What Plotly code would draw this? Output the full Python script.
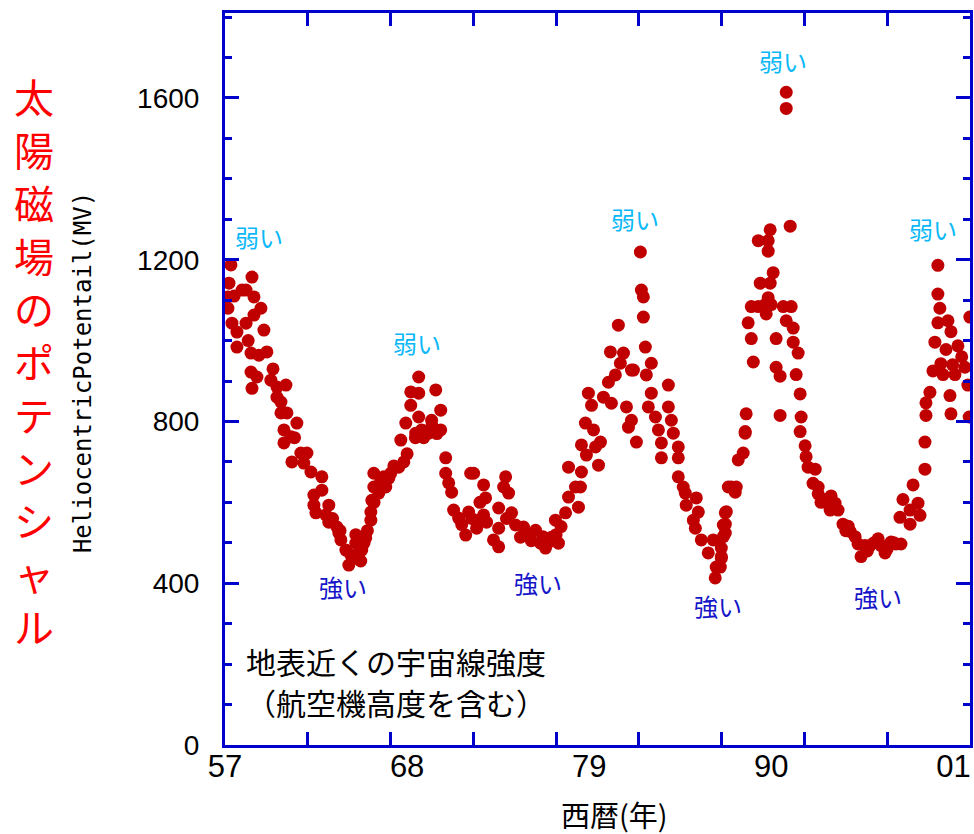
import plotly.graph_objects as go

# ---- data (year, heliocentric potential in MV) ----
years = [
    1957.36, 1957.24, 1957.18, 1957.18, 1957.42, 1957.72, 1957.72, 1958.03, 1958.27, 1958.63,
    1958.75, 1958.27, 1958.75, 1959.17, 1959.35, 1958.57, 1959.05, 1959.53, 1958.57, 1958.93,
    1958.63, 1959.77, 1960.14, 1960.68, 1960.14, 1960.38, 1960.38, 1960.74, 1961.34, 1960.56,
    1960.56, 1960.98, 1961.04, 1961.58, 1961.95, 1961.76, 1962.19, 1962.85, 1962.85, 1962.37,
    1962.37, 1963.27, 1962.49, 1963.09, 1963.27, 1963.76, 1963.88, 1964.00, 1964.30, 1964.60,
    1964.48, 1964.90, 1965.26, 1965.50, 1965.81, 1965.81, 1965.87, 1965.99, 1965.99, 1966.29,
    1966.59, 1966.71, 1967.01, 1967.49, 1967.62, 1967.92, 1968.22, 1968.70, 1968.70, 1968.22,
    1968.70, 1968.52, 1968.88, 1969.30, 1969.48, 1969.73, 1970.03, 1970.03, 1970.33, 1970.33,
    1970.51, 1970.69, 1970.81, 1971.11, 1971.54, 1971.84, 1972.14,
    1964.70, 1965.00, 1965.20, 1964.90, 1965.40, 1965.60, 1966.00, 1966.40, 1966.90, 1967.20,
    1967.80, 1968.00, 1968.50, 1969.00, 1969.50, 1969.80, 1957.55, 1958.40, 1959.90, 1961.20,
    1963.50, 1963.95,
    1972.02, 1972.62, 1972.74, 1971.72, 1972.62, 1972.80, 1972.20, 1973.22, 1973.53, 1973.53,
    1973.53, 1973.95, 1973.83, 1974.13, 1974.31, 1974.55, 1975.03, 1974.85, 1975.76, 1976.06,
    1976.36, 1976.72, 1976.96, 1977.14, 1977.57, 1977.75, 1977.75, 1978.17, 1978.47, 1978.35,
    1978.53, 1978.53, 1978.77, 1978.83, 1979.26, 1979.38, 1979.68, 1979.56, 1978.95, 1979.14,
    1979.86, 1980.16, 1980.34, 1980.28, 1980.76, 1980.58, 1980.88, 1981.07, 1981.25, 1981.37,
    1981.55, 1981.67, 1981.55, 1981.85, 1982.09, 1982.15, 1982.27, 1982.27, 1982.39, 1982.45,
    1982.75, 1982.75, 1982.57, 1983.00, 1983.18, 1983.36, 1983.36, 1983.78, 1983.78, 1983.96,
    1984.08, 1984.38, 1984.38, 1984.38, 1984.68, 1984.80, 1984.86, 1985.47, 1985.59, 1985.29,
    1985.41, 1985.77, 1986.19, 1986.49, 1986.67, 1986.61, 1986.98, 1986.98, 1987.22, 1987.10,
    1987.22, 1987.40,
    1975.30, 1975.50, 1976.20, 1976.50, 1977.00, 1977.30, 1971.30, 1971.90, 1974.00, 1972.40,
    1986.92, 1986.98, 1987.10, 1987.22, 1987.28, 1987.58, 1987.82, 1987.88, 1988.00, 1988.30,
    1988.42, 1988.48, 1988.42, 1988.91, 1988.79, 1988.60, 1988.79, 1989.21, 1989.69, 1989.63,
    1989.33, 1989.93, 1990.11, 1989.81, 1989.21, 1989.81, 1989.93, 1989.81, 1989.99, 1990.29,
    1990.29, 1990.53, 1990.53, 1990.90, 1990.90, 1991.14, 1990.72, 1991.20, 1990.90, 1991.32,
    1991.32, 1991.62, 1991.50, 1991.74, 1991.80, 1991.74, 1992.04, 1992.10, 1992.22, 1992.65,
    1992.52, 1992.83, 1992.83, 1993.25, 1993.61, 1993.55, 1993.85, 1994.03, 1994.33, 1994.64,
    1994.76, 1995.06, 1995.24, 1995.42, 1995.66, 1995.96, 1996.45, 1996.63, 1996.87, 1997.23,
    1997.53, 1997.83, 1997.77, 1997.95, 1998.38, 1998.38, 1998.56, 1998.86, 1998.98, 1999.28,
    1999.28, 1999.34, 1999.34, 1999.58, 1999.76, 1999.88, 2000.06, 2000.18, 2000.06, 2000.06,
    2000.24, 2000.37, 2000.55, 2000.67, 2000.85, 2000.79, 2000.85, 2001.09, 2001.27, 2001.69,
    2001.87, 2001.99, 2001.95,
    1993.00, 1994.50, 1995.80, 1996.20, 1997.00, 1997.40, 2001.50, 2000.95,
]
potential = [
    1187, 1142, 1108, 1080, 1043, 1021, 984, 1125, 1125, 1157,
    1108, 1043, 1063, 1080, 1026, 969, 964, 972, 922, 910,
    882, 902, 885, 890, 860, 848, 821, 821, 796, 779,
    747, 762, 700, 722, 722, 697, 675, 663, 630, 618,
    593, 593, 574, 569, 551, 539, 524, 507, 482, 470,
    445, 499, 482, 512, 556, 576, 605, 638, 672, 623,
    663, 638, 672, 687, 754, 796, 873, 910, 870, 840,
    811, 771, 779, 771, 803, 878, 828, 779, 710, 672,
    648, 625, 581, 561, 519, 672, 556,
    460, 470, 455, 520, 500, 530, 600, 650, 660, 690,
    700, 720, 760, 760, 790, 770, 1110, 1000, 930, 760,
    560, 530,
    672, 643, 611, 576, 569, 551, 536, 507, 490, 536,
    586, 663, 638, 623, 574, 544, 539, 514, 531, 499,
    487, 514, 556, 499, 574, 613, 687, 638, 638, 588,
    675, 742, 796, 717, 779, 737, 749, 692, 870, 840,
    860, 897, 845, 972, 1038, 915, 944, 969, 836, 786,
    927, 927, 803, 749, 1219, 1125, 1108, 1058, 984, 915,
    944, 870, 836, 811, 779, 747, 710, 890, 836, 803,
    771, 737, 710, 663, 638, 623, 593, 611, 576, 556,
    536, 507, 475, 507, 440, 413, 462, 487, 524, 544,
    574, 638,
    520, 505, 515, 500, 520, 540, 545, 560, 560, 600,
    440, 466, 515, 546, 577, 638, 625, 638, 705, 722,
    771, 819, 775, 947, 1005, 1044, 1084, 1084, 1066, 1089,
    1142, 1142, 1168, 1221, 1247, 1247, 1274, 1106, 1089, 1005,
    934, 912, 815, 1614, 1574, 1283, 1084, 1084, 1049, 1031,
    996, 969, 916, 868, 811, 775, 740, 713, 687, 682,
    647, 638, 621, 607, 616, 581, 598, 581, 546, 541,
    528, 515, 497, 466, 493, 493, 510, 493, 475, 502,
    497, 497, 563, 607, 581, 546, 643, 598, 568, 682,
    749, 815, 846, 872, 925, 996, 1044, 1080, 1115, 1186,
    943, 916, 978, 1049, 1022, 864, 819, 916, 987, 934,
    890, 1058, 811,
    600, 530, 480, 500, 485, 500, 960, 940,
]

x_tick_vals = [1957, 1968, 1979, 1990, 2001]
x_tick_text = ["57", "68", "79", "90", "01"]
y_tick_vals = [0, 400, 800, 1200, 1600]

weak_x = [1959.05, 1968.58, 1981.79, 1990.72, 1999.76]
weak_y = [1258, 996, 1303, 1693, 1276]
strong_x = [1964.12, 1975.88, 1986.80, 1996.45]
strong_y = [391, 403, 346, 368]

red_title = "太陽磁場のポテンシャル"
note_lines = ["地表近くの宇宙線強度", "（航空機高度を含む）"]

AXIS_BLUE = "#0000CC"
DOT_RED = "#C00000"
JP = "Noto Sans CJK JP"
LAT = "Liberation Sans, Arial"

fig = go.Figure()
fig.add_trace(go.Scatter(
    x=years, y=potential, mode="markers",
    marker=dict(color=DOT_RED, size=13, line=dict(width=0)),
    showlegend=False, hoverinfo="x+y",
))
# empty trace so the label axis is registered
fig.add_trace(go.Scatter(x=[], y=[], xaxis="x2", yaxis="y", showlegend=False))

for xv, yv in zip(weak_x, weak_y):
    fig.add_annotation(x=xv, y=yv, text="弱い", showarrow=False,
                       font=dict(family=JP, size=24, color="#0AB8F8"))
for xv, yv in zip(strong_x, strong_y):
    fig.add_annotation(x=xv, y=yv, text="強い", showarrow=False,
                       font=dict(family=JP, size=24, color="#1414C8"))

# note block inside the plot, one annotation per line
for i, line in enumerate(note_lines):
    fig.add_annotation(xref="paper", yref="paper", x=0.027, y=0.1148 - i * 0.0561,
                       xanchor="left", yanchor="middle", borderpad=0,
                       text=line, showarrow=False,
                       font=dict(family=JP, size=30, color="black"))

fig.add_annotation(xref="paper", yref="paper", x=0.5227, y=-0.094,
                   xanchor="center", yanchor="middle",
                   text="西暦(年)", showarrow=False,
                   font=dict(family=JP, size=29, color="black"))

# red vertical title, stacked one character per row
for i, ch in enumerate(red_title):
    fig.add_annotation(xref="paper", yref="paper", x=-0.2567,
                       y=0.886 - i * 0.0723,
                       xanchor="center", yanchor="middle",
                       text=ch, showarrow=False,
                       font=dict(family=JP, size=40, color="#FF0000"))

fig.add_annotation(xref="paper", yref="paper", x=-0.1897, y=0.509,
                   xanchor="center", yanchor="middle", textangle=-90,
                   text="HeliocentricPotentail(MV)", showarrow=False,
                   font=dict(family="DejaVu Sans Mono", size=24, color="black"))

fig.update_layout(
    width=974, height=834,
    margin=dict(l=225, r=1, t=13, b=89),
    paper_bgcolor="white", plot_bgcolor="white",
    showlegend=False,
    xaxis=dict(
        range=[1957, 2002], showgrid=False, zeroline=False,
        showline=True, linecolor=AXIS_BLUE, linewidth=3, mirror="ticks",
        tickmode="linear", tick0=1957, dtick=5,
        ticks="inside", ticklen=13, tickwidth=3, tickcolor=AXIS_BLUE,
        showticklabels=False,
    ),
    xaxis2=dict(
        range=[1957, 2002], overlaying="x", anchor="y", side="bottom",
        showgrid=False, zeroline=False, showline=False,
        tickmode="array", tickvals=x_tick_vals, ticktext=x_tick_text,
        ticks="", ticklabelstandoff=0,
        tickfont=dict(family=LAT, size=31, color="black"),
    ),
    yaxis=dict(
        range=[0, 1810], showgrid=False, zeroline=False,
        showline=True, linecolor=AXIS_BLUE, linewidth=3, mirror="ticks",
        tickmode="array", tickvals=y_tick_vals,
        ticks="inside", ticklen=14, tickwidth=3, tickcolor=AXIS_BLUE,
        minor=dict(dtick=100, tick0=0, ticks="inside", ticklen=7, tickwidth=3,
                   tickcolor=AXIS_BLUE, showgrid=False),
        ticklabelstandoff=17,
        tickfont=dict(family=LAT, size=28, color="black"),
    ),
)

fig.write_html(
    "out.html",
    config={"displayModeBar": False},
    post_script="document.body.style.margin='0px';document.body.style.overflow='hidden';",
)
